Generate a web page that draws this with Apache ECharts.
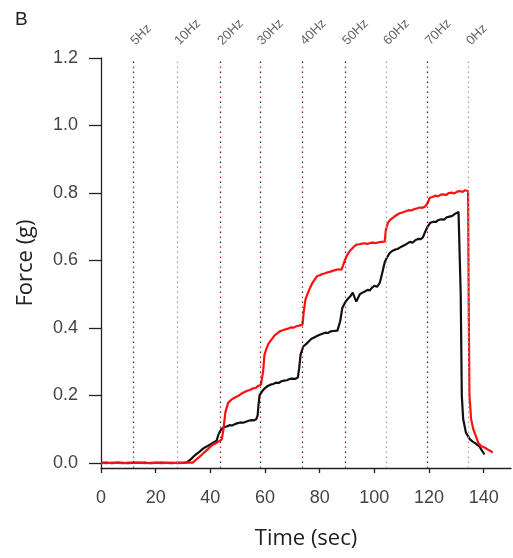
<!DOCTYPE html>
<html>
<head>
<meta charset="utf-8">
<script src="https://cdn.jsdelivr.net/npm/echarts@6/dist/echarts.min.js"></script>
<style>
  html, body { margin: 0; padding: 0; background: #fff; }
  #chart { width: 513px; height: 558px; }
</style>
</head>
<body>
<div id="chart"></div>
<script>
// Stimulation frequency markers (time in seconds)
const freqLabels = ['5Hz', '10Hz', '20Hz', '30Hz', '40Hz', '50Hz', '60Hz', '70Hz', '0Hz'];
const freqTimes = [11.7, 27.8, 43.5, 58.1, 73.8, 89.2, 104.2, 119.5, 134.5];
const freqGray = [false, true, false, false, false, false, true, false, true];

// Axis ticks
const xTicks = [0, 20, 40, 60, 80, 100, 120, 140];
const yTicks = [0, 0.2, 0.4, 0.6, 0.8, 1.0, 1.2];

// Black trace
const blackTime = [0, 2, 4, 6, 8, 10, 12, 14, 16, 18, 20, 22, 24, 26, 28, 30, 31.5, 33, 34, 35, 36, 37, 38, 39, 40, 41, 42.3, 43, 44, 45, 46, 47, 48, 49, 50, 51, 52, 53, 54, 55, 56, 56.8, 57.3, 57.6, 58, 59, 60, 61, 62, 63, 64, 65, 66, 67, 68, 69, 70, 71, 72, 72.5, 73, 74, 75, 76, 77, 78, 79, 80, 81, 82, 83, 84, 85, 86.5, 87.5, 88.3, 89.5, 90.5, 91.3, 92.1, 92.8, 93.4, 94.2, 94.7, 95.5, 96.5, 97.5, 98.3, 99, 100, 101, 102, 102.8, 103.8, 104.7, 105.6, 106.5, 107.5, 108.5, 109.3, 110.2, 111, 112, 113, 114, 115, 116, 117, 117.8, 118.6, 119.5, 120.5, 121.5, 122.5, 123.5, 124.5, 125.5, 126.5, 127.5, 128.5, 129.5, 130.2, 130.8, 131.2, 131.6, 132, 132.5, 133.5, 135, 136, 137, 138.5, 139.5, 140.3];
const blackForce = [0.0, 0.001, -0.001, 0.001, 0.0, -0.001, 0.001, 0.0, 0.001, -0.001, 0.0, 0.001, 0.0, -0.001, 0.001, 0.0, 0.002, 0.012, 0.02, 0.027, 0.033, 0.04, 0.046, 0.05, 0.055, 0.06, 0.066, 0.085, 0.1, 0.106, 0.108, 0.112, 0.111, 0.115, 0.118, 0.12, 0.119, 0.122, 0.125, 0.127, 0.126, 0.13, 0.14, 0.17, 0.2, 0.213, 0.222, 0.228, 0.232, 0.234, 0.238, 0.237, 0.242, 0.244, 0.245, 0.249, 0.25, 0.249, 0.253, 0.28, 0.32, 0.345, 0.352, 0.36, 0.368, 0.372, 0.376, 0.38, 0.383, 0.386, 0.385, 0.39, 0.391, 0.392, 0.42, 0.46, 0.478, 0.488, 0.495, 0.505, 0.49, 0.478, 0.492, 0.5, 0.504, 0.508, 0.513, 0.511, 0.518, 0.525, 0.522, 0.534, 0.56, 0.595, 0.61, 0.622, 0.628, 0.632, 0.634, 0.638, 0.642, 0.645, 0.65, 0.655, 0.653, 0.66, 0.664, 0.663, 0.669, 0.685, 0.7, 0.712, 0.715, 0.714, 0.72, 0.722, 0.721, 0.728, 0.73, 0.732, 0.738, 0.74, 0.744, 0.74, 0.5, 0.2, 0.13, 0.09, 0.07, 0.063, 0.058, 0.048, 0.035, 0.025];

// Red trace
const redTime = [0, 2, 4, 6, 8, 10, 12, 14, 16, 18, 20, 22, 24, 26, 28, 30, 32, 33.6, 34.5, 35, 36, 37, 38, 39, 40, 41, 42, 43, 44.2, 44.8, 45.5, 46.5, 47.5, 48.5, 49.5, 50.5, 51.5, 52.5, 53.5, 54.5, 55.5, 56.5, 57.5, 58.5, 59.3, 59.8, 60.5, 61.2, 62, 62.8, 63.5, 64.5, 65.4, 66.5, 67.5, 68.5, 69.5, 70.5, 71.5, 72.5, 73.7, 74.2, 74.8, 75.5, 76, 77, 77.5, 78.3, 79, 80, 81, 82, 83, 84, 85, 86, 87, 88, 88.7, 89.2, 90, 91, 91.5, 92.5, 93.5, 94.5, 95.5, 96.5, 97.5, 98.5, 99.5, 100.5, 101.5, 102.5, 103.8, 104.2, 105, 106, 107, 108, 109.3, 110.5, 111.5, 112.5, 113.5, 114.5, 115.5, 116.6, 117.6, 118.6, 119.5, 120.3, 121.3, 122.3, 123.3, 124.3, 125.3, 126.3, 127.3, 128.3, 129.3, 130.3, 131.3, 132.3, 133.2, 133.9, 134.3, 134.5, 134.8, 135.4, 136.2, 136.9, 138, 139, 140.5, 141.5, 142.8, 143.3];
const redForce = [0.0, -0.001, 0.001, 0.0, -0.001, 0.001, 0.0, 0.001, -0.001, 0.0, 0.001, -0.001, 0.0, 0.001, -0.001, 0.0, 0.001, 0.001, 0.008, 0.012, 0.018, 0.025, 0.033, 0.04, 0.048, 0.055, 0.058, 0.063, 0.07, 0.1, 0.15, 0.178, 0.186, 0.192, 0.196, 0.2, 0.206, 0.21, 0.214, 0.216, 0.221, 0.222, 0.228, 0.232, 0.27, 0.32, 0.338, 0.352, 0.362, 0.37, 0.378, 0.384, 0.39, 0.393, 0.396, 0.398, 0.402, 0.401, 0.405, 0.407, 0.41, 0.45, 0.484, 0.5, 0.51, 0.528, 0.535, 0.545, 0.553, 0.556, 0.56, 0.562, 0.565, 0.567, 0.57, 0.572, 0.574, 0.573, 0.578, 0.6, 0.615, 0.628, 0.632, 0.641, 0.647, 0.648, 0.65, 0.651, 0.649, 0.652, 0.653, 0.651, 0.654, 0.655, 0.656, 0.69, 0.712, 0.722, 0.728, 0.734, 0.74, 0.743, 0.746, 0.749, 0.748, 0.752, 0.754, 0.757, 0.756, 0.76, 0.77, 0.786, 0.788, 0.792, 0.79, 0.795, 0.796, 0.794, 0.8, 0.801, 0.799, 0.804, 0.806, 0.803, 0.808, 0.81, 0.806, 0.5, 0.2, 0.13, 0.1, 0.085, 0.06, 0.05, 0.045, 0.04, 0.034, 0.03];

const zip = (a, b) => a.map((t, i) => [t, b[i]]);

// Dotted frequency markers: mixed red/black dots, or plain gray
const redMarks = [];
const darkMarks = [];
freqTimes.forEach((t, i) => {
  if (freqGray[i]) {
    darkMarks.push({ xAxis: t, lineStyle: { color: '#a0a0a0', type: [1.5, 3.5], width: 1.2 } });
  } else {
    redMarks.push({ xAxis: t, lineStyle: { color: '#d42020', type: [1.5, 8.5], dashOffset: 0, width: 1.2 } });
    darkMarks.push({ xAxis: t, lineStyle: { color: '#222', type: [1.5, 8.5], dashOffset: 5, width: 1.2 } });
  }
});

const markCommon = { symbol: 'none', silent: true, animation: false, label: { show: false } };

const chart = echarts.init(document.getElementById('chart'));
chart.setOption({
  animation: false,
  backgroundColor: '#fff',
  graphic: [{
    type: 'text', left: 15, top: 10,
    style: { text: 'B', fontSize: 19, fontFamily: 'Liberation Sans, Arial', fill: '#222' }
  }],
  grid: { left: 101, right: 2, top: 58, bottom: 90, containLabel: false },
  xAxis: [{
    type: 'value', min: 0, max: 150, position: 'bottom',
    name: 'Time (sec)', nameLocation: 'middle', nameGap: 60,
    nameTextStyle: { fontFamily: 'Open Sans', fontSize: 22, color: '#222' },
    axisLine: { onZero: false, lineStyle: { color: '#222', width: 1.3 } },
    axisTick: { customValues: xTicks, length: 5, lineStyle: { color: '#222', width: 1.3 } },
    axisLabel: { customValues: xTicks, margin: 21, fontFamily: 'Liberation Sans, Arial', fontSize: 18, color: '#444' },
    splitLine: { show: false }
  }, {
    type: 'value', min: 0, max: 150, position: 'top',
    axisLine: { show: false }, axisTick: { show: false }, splitLine: { show: false },
    axisLabel: {
      customValues: freqTimes, rotate: 45, margin: 15,
      fontFamily: 'Liberation Sans, Arial', fontSize: 13, color: '#666',
      formatter: v => { const i = freqTimes.findIndex(t => Math.abs(t - v) < 1e-6); return i >= 0 ? freqLabels[i] : ''; }
    }
  }],
  yAxis: {
    type: 'value', min: -0.015, max: 1.2,
    name: 'Force (g)', nameLocation: 'middle', nameGap: 64,
    nameTextStyle: { fontFamily: 'Open Sans', fontSize: 22, color: '#222' },
    axisLine: { show: true, onZero: false, lineStyle: { color: '#222', width: 1.3 } },
    axisTick: { show: true, customValues: yTicks, length: 12, lineStyle: { color: '#222', width: 1.3 } },
    axisLabel: { customValues: yTicks, margin: 23, fontFamily: 'Liberation Sans, Arial', fontSize: 18, color: '#444', formatter: v => v.toFixed(1) },
    splitLine: { show: false }
  },
  series: [{
    name: 'black', type: 'line', data: zip(blackTime, blackForce),
    showSymbol: false, smooth: false, z: 3,
    lineStyle: { color: '#111', width: 2.2 },
    markLine: Object.assign({ data: darkMarks }, markCommon)
  }, {
    name: 'red', type: 'line', data: zip(redTime, redForce),
    showSymbol: false, smooth: false, z: 4,
    lineStyle: { color: '#ff1010', width: 2.2 },
    markLine: Object.assign({ data: redMarks }, markCommon)
  }]
});
</script>
</body>
</html>
